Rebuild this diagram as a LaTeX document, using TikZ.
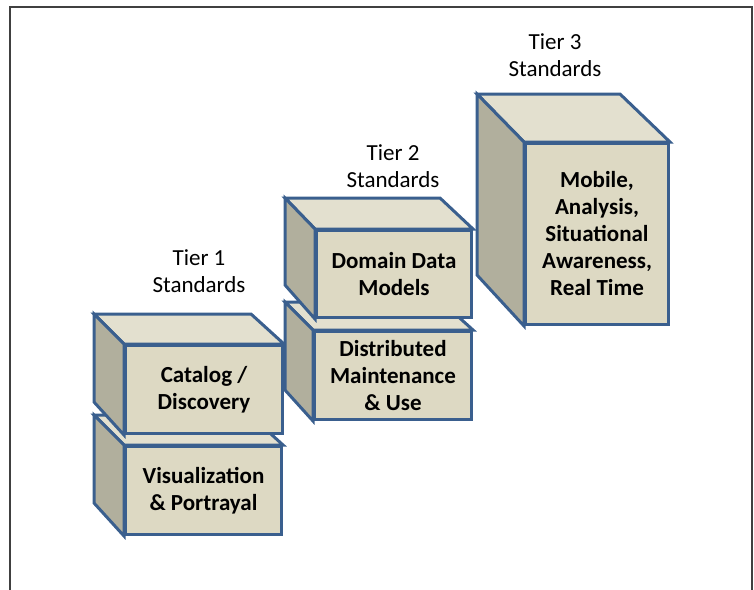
\documentclass[tikz,border=0pt]{standalone}
\usepackage{fontspec}
\setmainfont{Carlito}

\definecolor{boxline}{RGB}{58,95,142}
\definecolor{boxfront}{RGB}{221,217,195}
\definecolor{boxtop}{RGB}{227,224,207}
\definecolor{boxside}{RGB}{177,175,157}

\begin{document}
\begin{tikzpicture}[x = 1pt, y = -1pt, line width = 3pt, every node/.style = {font = \fontsize{23}{27}\selectfont, align = center}, front/.style = {draw = boxline, fill = boxfront, anchor = north west, inner sep = 0pt, font = \fontsize{23}{27}\selectfont\bfseries}, face/.style = {draw = boxline}, tierlabel/.style = {font = \fontsize{23}{27}\selectfont}]
    \useasboundingbox (0,0) rectangle (754,589);
    \draw[line width = 1.5pt, black!75] (10,595) |- (752,7) -- (752,595);

    % tier 1
    \node[front, minimum width = 156pt, minimum height = 88pt] (portrayal) at (124,445) {Visualization\\\& Portrayal};
    \draw[face, fill = boxtop] (portrayal.north west) -- ++(-30,-30) -- ++(156,0) -- (portrayal.north east) -- cycle;
    \draw[face, fill = boxside] (portrayal.north west) -- ++(-30,-30) -- ++(0,88) -- (portrayal.south west) -- cycle;
    \node[front, minimum width = 157pt, minimum height = 88pt] (catalog) at (124,344) {Catalog /\\Discovery};
    \draw[face, fill = boxtop] (catalog.north west) -- ++(-30,-30) -- ++(157,0) -- (catalog.north east) -- cycle;
    \draw[face, fill = boxside] (catalog.north west) -- ++(-30,-30) -- ++(0,88) -- (catalog.south west) -- cycle;

    % tier 2
    \node[front, minimum width = 157pt, minimum height = 88pt] (maintenance) at (313,330) {Distributed\\Maintenance\\\& Use};
    \draw[face, fill = boxtop] (maintenance.north west) -- ++(-28,-28) -- ++(157,0) -- (maintenance.north east) -- cycle;
    \draw[face, fill = boxside] (maintenance.north west) -- ++(-28,-28) -- ++(0,88) -- (maintenance.south west) -- cycle;
    \node[front, minimum width = 155pt, minimum height = 87pt] (domain) at (315,229) {Domain Data\\Models};
    \draw[face, fill = boxtop] (domain.north west) -- ++(-30,-31) -- ++(155,0) -- (domain.north east) -- cycle;
    \draw[face, fill = boxside] (domain.north west) -- ++(-30,-31) -- ++(0,87) -- (domain.south west) -- cycle;

    % tier 3
    \node[front, minimum width = 143pt, minimum height = 181pt] (mobile) at (524,142) {Mobile,\\Analysis,\\Situational\\Awareness,\\Real Time};
    \draw[face, fill = boxtop] (mobile.north west) -- ++(-47,-48) -- ++(143,0) -- (mobile.north east) -- cycle;
    \draw[face, fill = boxside] (mobile.north west) -- ++(-47,-48) -- ++(0,181) -- (mobile.south west) -- cycle;

    \node[tierlabel] (tierone) at (199,271) {Tier 1\\Standards};
    \node[tierlabel] (tiertwo) at (393,166) {Tier 2\\Standards};
    \node[tierlabel] (tierthree) at (555,55) {Tier 3\\Standards};
\end{tikzpicture}
\end{document}
